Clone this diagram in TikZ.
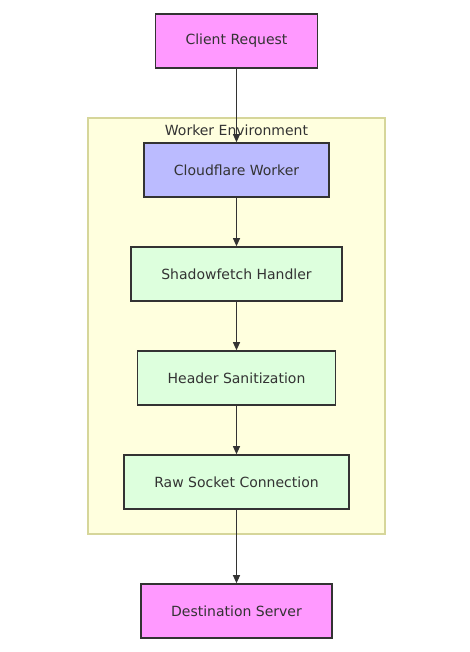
\documentclass[tikz,border=0pt]{standalone}
\usepackage{fontspec}
\setmainfont{DejaVu Sans}
\usepackage{xcolor}
\usepackage{tikz}
\usetikzlibrary{arrows.meta}
\definecolor{ink}{HTML}{333333}
\definecolor{endfill}{HTML}{FF99FF}
\definecolor{workerfill}{HTML}{BBBBFF}
\definecolor{stepfill}{HTML}{DDFFDD}
\definecolor{clusterfill}{HTML}{FFFFDE}
\definecolor{clusterline}{HTML}{D6D69A}
\tikzset{
  box/.style={draw=ink, line width=1.6pt, text=ink, minimum height=54pt, inner xsep=30pt, font=\fontsize{14}{16}\selectfont},
  endbox/.style={box, fill=endfill},
  workerbox/.style={box, fill=workerfill},
  stepbox/.style={box, fill=stepfill},
  cluster/.style={draw=clusterline, fill=clusterfill, line width=1.2pt},
  flow/.style={draw=ink, line width=1pt, -{Triangle[length=8pt,width=7pt]}},
  lab/.style={text=ink, font=\fontsize{14}{16}\selectfont}
}
\begin{document}
\begin{tikzpicture}[x=1pt,y=-1pt]
  \useasboundingbox (0,0) rectangle (469,652);
  % worker environment
  \draw[cluster] (88,118) rectangle (385,534);
  \node[lab] (env) at (236.5,130) {Worker Environment};
  % nodes
  \node[endbox] (client) at (236.5,41) {Client Request};
  \node[workerbox] (worker) at (236.5,170) {Cloudflare Worker};
  \node[stepbox] (handler) at (236.5,274) {Shadowfetch Handler};
  \node[stepbox] (headers) at (236.5,378) {Header Sanitization};
  \node[stepbox] (socket) at (236.5,482) {Raw Socket Connection};
  \node[endbox] (dest) at (236.5,611) {Destination Server};
  % connectors
  \draw[flow] (client) -- (worker);
  \draw[flow] (worker) -- (handler);
  \draw[flow] (handler) -- (headers);
  \draw[flow] (headers) -- (socket);
  \draw[flow] (socket) -- (dest);
\end{tikzpicture}
\end{document}
